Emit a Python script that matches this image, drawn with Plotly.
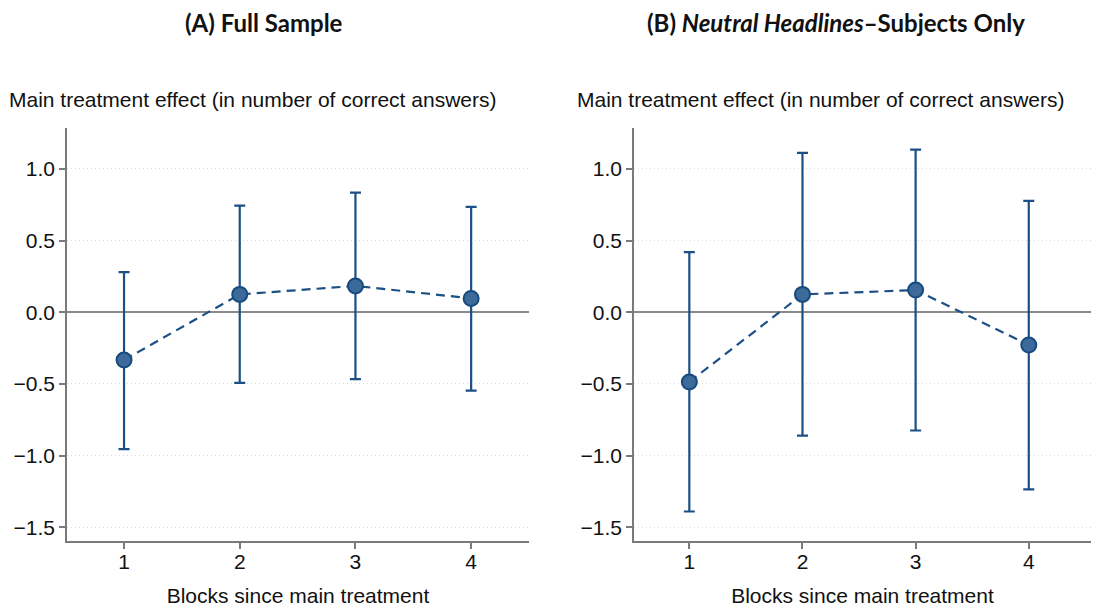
import plotly.graph_objects as go

# Blocks since main treatment
blocks = [1, 2, 3, 4]

# (A) Full sample: point estimates and 95% CI bounds
full_est = [-0.333, 0.125, 0.184, 0.097]
full_hi = [0.280, 0.745, 0.835, 0.736]
full_lo = [-0.955, -0.493, -0.466, -0.547]

# (B) Neutral-headlines subjects only
neutral_est = [-0.486, 0.125, 0.155, -0.228]
neutral_hi = [0.420, 1.113, 1.135, 0.777]
neutral_lo = [-1.390, -0.860, -0.825, -1.236]

y_ticks = [-1.5, -1.0, -0.5, 0.0, 0.5, 1.0]
y_tick_labels = ["−1.5", "−1.0", "−0.5", "0.0", "0.5", "1.0"]

LINE = "#1b4f86"
FILL = "#3b6a9b"
EDGE = "#174a7e"
TEXT_FONT = "Liberation Sans, Arial, sans-serif"
TITLE_FONT = "Lato, Noto Sans, sans-serif"
FS = 21

fig = go.Figure()


def add_panel(est, hi, lo, xref, yref):
    up = [h - e for h, e in zip(hi, est)]
    dn = [e - l for e, l in zip(est, lo)]
    # confidence intervals
    fig.add_trace(go.Scatter(
        x=blocks, y=est, mode="markers",
        marker=dict(size=0.1, color=LINE, opacity=0),
        error_y=dict(type="data", symmetric=False, array=up, arrayminus=dn,
                     color=LINE, thickness=2.2, width=5.5),
        xaxis=xref, yaxis=yref, showlegend=False, hoverinfo="skip",
    ))
    # dashed connecting line with point estimates
    fig.add_trace(go.Scatter(
        x=blocks, y=est, mode="lines+markers",
        line=dict(color=LINE, width=2.2, dash="9px,6px"),
        marker=dict(size=15, color=FILL, line=dict(color=EDGE, width=2)),
        xaxis=xref, yaxis=yref, showlegend=False,
    ))


add_panel(full_est, full_hi, full_lo, "x", "y")
add_panel(neutral_est, neutral_hi, neutral_lo, "x2", "y2")

xaxis_common = dict(
    tickmode="array", tickvals=blocks, ticktext=[str(b) for b in blocks],
    showgrid=False, zeroline=False, showline=True, linecolor="#7a7a7a", linewidth=1.5,
    ticks="outside", ticklen=6, tickcolor="#7a7a7a", tickwidth=1.5,
    ticklabelstandoff=-5,
    tickfont=dict(family=TEXT_FONT, size=FS, color="#111111"),
    title=dict(text="Blocks since main treatment", standoff=16,
               font=dict(family=TEXT_FONT, size=FS, color="#111111")),
)
yaxis_common = dict(
    range=[-1.596, 1.286], tickmode="array", tickvals=y_ticks, ticktext=y_tick_labels,
    showgrid=True, gridcolor="#d9d9d9", griddash="1px,3px", gridwidth=1.2,
    zeroline=True, zerolinecolor="#8a8a8a", zerolinewidth=1.5,
    showline=True, linecolor="#7a7a7a", linewidth=1.5,
    ticks="outside", ticklen=6, tickcolor="#7a7a7a", tickwidth=1.5,
    tickfont=dict(family=TEXT_FONT, size=FS, color="#111111"),
)

fig.update_layout(
    width=1093, height=607,
    margin=dict(l=0, r=0, t=0, b=0),
    paper_bgcolor="white", plot_bgcolor="white",
    xaxis=dict(domain=[67 / 1093, 529 / 1093], range=[0.507, 4.50], anchor="y", **xaxis_common),
    yaxis=dict(domain=[1 - 541 / 607, 1 - 128 / 607], anchor="x", **yaxis_common),
    xaxis2=dict(domain=[634 / 1093, 1091 / 1093], range=[0.511, 4.55], anchor="y2", **xaxis_common),
    yaxis2=dict(domain=[1 - 541 / 607, 1 - 128 / 607], anchor="x2", **yaxis_common),
)

annotations = [
    dict(text="<b>(A) Full Sample</b>", x=264 / 1093, y=1 - 22 / 607,
         font=dict(family=TITLE_FONT, size=24, color="#111111")),
    dict(text="<b>(B) <i>Neutral Headlines</i>–Subjects Only</b>", x=836 / 1093, y=1 - 22 / 607,
         font=dict(family=TITLE_FONT, size=24, color="#111111")),
]
for a in annotations:
    a.update(xref="paper", yref="paper", showarrow=False, xanchor="center", yanchor="middle")
    fig.add_annotation(**a)

for xpos in (7, 575):
    fig.add_annotation(
        text="Main treatment effect (in number of correct answers)",
        x=xpos / 1093, y=1 - 100 / 607, xref="paper", yref="paper",
        xanchor="left", yanchor="middle", showarrow=False,
        font=dict(family=TEXT_FONT, size=FS, color="#111111"),
    )

fig.write_html("out.html")
